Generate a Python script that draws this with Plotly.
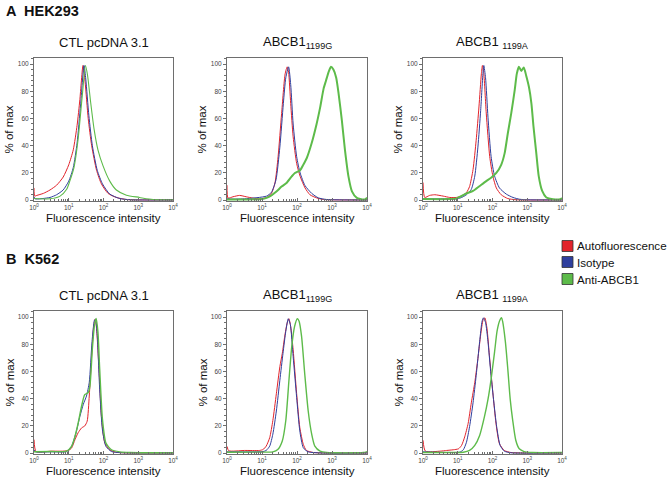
import numpy as np
import plotly.graph_objects as go

# ---------------- data (x in log10 fluorescence intensity, y in % of max) -------------
SERIES_NAMES = ["Autofluorescence", "Isotype", "Anti-ABCB1"]
PANEL_TITLES = ["CTL pcDNA 3.1", "ABCB1<sub>1199G</sub>", "ABCB1 <sub>1199A</sub>"]
ROW_LABELS = ["<b>A  HEK293</b>", "<b>B  K562</b>"]
X_TICK_VALS = [1, 10, 100, 1000, 10000]
X_TICK_TEXT = ["10<sup>0</sup>", "10<sup>1</sup>", "10<sup>2</sup>", "10<sup>3</sup>", "10<sup>4</sup>"]
Y_TICK_VALS = [0, 20, 40, 60, 80, 100]

# HEK293 - CTL pcDNA 3.1
A1_RED_X = [0, 0.02, 0.08, 0.27, 0.46, 0.65, 0.84, 1.0, 1.13, 1.24, 1.32, 1.41, 1.47, 1.56, 1.66, 1.80, 1.94, 2.13, 2.37, 2.66, 3.0, 4.0]
A1_RED_Y = [9, 3, 3.5, 5, 7.5, 11, 17, 26, 37, 55, 74, 99, 87, 60, 40, 22, 12, 5, 2, 0.5, 0.2, 0.2]
A1_BLUE_X = [0, 0.03, 0.46, 0.65, 0.84, 1.0, 1.13, 1.24, 1.34, 1.44, 1.49, 1.58, 1.68, 1.82, 1.97, 2.18, 2.47, 2.8, 4.0]
A1_BLUE_Y = [2.5, 1, 2, 4, 7.5, 14, 24, 42, 70, 99, 89, 62, 40, 22, 12, 4.5, 1.2, 0.3, 0.2]
A1_GREEN_X = [0, 0.46, 0.75, 0.94, 1.03, 1.15, 1.27, 1.39, 1.48, 1.54, 1.63, 1.73, 1.84, 1.99, 2.18, 2.37, 2.66, 3.04, 3.23, 3.43, 3.7, 4.0]
A1_GREEN_Y = [1.2, 1, 3, 8, 14, 24, 45, 77, 99, 92, 72, 52, 37, 25, 14, 7.5, 3.7, 2, 1, 0.5, 0.3, 0.3]

# HEK293 - ABCB1 1199G
A2_RED_X = [0, 0.03, 0.17, 0.36, 0.55, 0.75, 0.94, 1.13, 1.27, 1.37, 1.46, 1.56, 1.66, 1.72, 1.76, 1.82, 1.89, 1.99, 2.09, 2.23, 2.37, 2.56, 2.76, 4.0]
A2_RED_Y = [11, 1.5, 2.5, 3.5, 2.5, 1.5, 1, 2, 5, 12.6, 32, 63.6, 92.7, 98, 94, 71, 46.6, 27, 17.5, 9, 4, 1.7, 0.5, 0.2]
A2_BLUE_X = [0, 0.03, 0.5, 1.13, 1.27, 1.40, 1.51, 1.61, 1.68, 1.76, 1.82, 1.89, 1.99, 2.09, 2.23, 2.42, 2.61, 2.85, 4.0]
A2_BLUE_Y = [1.7, 1, 1, 3, 5.8, 15, 39, 71, 90, 98, 85, 56, 32, 20, 10.7, 5, 1.7, 0.5, 0.2]
A2_GREEN_X = [0, 0.5, 1.0, 1.13, 1.27, 1.42, 1.56, 1.70, 1.85, 1.94, 2.09, 2.18, 2.28, 2.42, 2.56, 2.66, 2.76, 2.83, 2.90, 2.97, 3.04, 3.12, 3.19, 3.28, 3.37, 3.47, 3.57, 3.71, 3.90, 3.97, 4.0]
A2_GREEN_Y = [0.5, 0.5, 0.8, 1.7, 3.6, 6.5, 10, 12.6, 17.5, 20, 22, 26, 31, 42, 56, 68, 82, 88, 94, 98, 96, 90, 78, 59, 37, 17.5, 6.5, 1.7, 0.5, 1, 2]

# HEK293 - ABCB1 1199A
A3_RED_X = [0, 0.05, 0.19, 0.34, 0.58, 0.77, 0.96, 1.10, 1.25, 1.34, 1.44, 1.53, 1.61, 1.68, 1.71, 1.75, 1.82, 1.92, 2.01, 2.11, 2.25, 2.44, 2.68, 4.0]
A3_RED_Y = [13, 2, 3.5, 4, 3, 2, 2, 3, 5.6, 10, 22.5, 44, 68.5, 93, 99, 93, 64, 32, 17.7, 9, 4, 1.2, 0.3, 0.2]
A3_BLUE_X = [0, 0.5, 1.06, 1.25, 1.39, 1.49, 1.58, 1.66, 1.73, 1.75, 1.80, 1.87, 1.96, 2.06, 2.20, 2.40, 2.59, 2.78, 2.97, 4.0]
A3_BLUE_Y = [1, 1, 1.5, 4, 8, 17.7, 39, 66, 95, 99, 90, 61, 32, 17.7, 9, 4.4, 2, 0.7, 0.3, 0.2]
A3_GREEN_X = [0, 0.77, 0.96, 1.10, 1.25, 1.44, 1.63, 1.82, 1.96, 2.11, 2.25, 2.35, 2.44, 2.54, 2.64, 2.70, 2.76, 2.83, 2.90, 2.97, 3.05, 3.12, 3.18, 3.26, 3.33, 3.43, 3.55, 3.74, 3.95, 4.0]
A3_GREEN_Y = [0.8, 0.8, 1.2, 3, 5, 6.8, 10.4, 14, 16.5, 20, 26, 34.6, 49, 64, 81, 93, 98, 95, 97.6, 91.5, 83, 71, 54, 34.6, 17.7, 6.8, 2, 0.7, 0.7, 1.5]

# K562 - CTL pcDNA 3.1
B1_RED_X = [0, 0.06, 0.5, 0.84, 0.99, 1.08, 1.18, 1.27, 1.37, 1.46, 1.53, 1.59, 1.66, 1.72, 1.76, 1.80, 1.87, 1.94, 2.04, 2.18, 2.37, 2.66, 4.0]
B1_RED_Y = [10, 1.2, 1.5, 1.5, 2, 3.7, 10, 15, 18.6, 20, 23.5, 42, 72, 94, 98.5, 91.6, 62, 27, 7.4, 2.5, 0.7, 0.2, 0.2]
B1_BLUE_X = [0, 0.04, 0.5, 0.94, 1.08, 1.21, 1.32, 1.42, 1.51, 1.59, 1.67, 1.74, 1.77, 1.82, 1.89, 1.97, 2.07, 2.23, 2.47, 4.0]
B1_BLUE_Y = [2.5, 1, 1, 1.2, 5, 15, 27, 36, 42, 52, 82, 97.8, 98.5, 86.6, 47, 17, 5, 1.2, 0.4, 0.2]
B1_GREEN_X = [0, 0.5, 0.94, 1.08, 1.18, 1.27, 1.37, 1.46, 1.56, 1.61, 1.68, 1.74, 1.79, 1.84, 1.89, 1.97, 2.07, 2.23, 2.47, 2.76, 4.0]
B1_GREEN_Y = [1, 1.2, 1.5, 5, 12.4, 22, 34.7, 43, 44.6, 49.5, 77, 94, 99, 89, 62, 24.8, 7.4, 2.5, 1, 0.5, 0.3]

# K562 - ABCB1 1199G
B2_RED_X = [0, 0.05, 0.5, 0.93, 1.03, 1.12, 1.22, 1.31, 1.41, 1.51, 1.58, 1.65, 1.72, 1.77, 1.82, 1.89, 1.99, 2.08, 2.18, 2.27, 2.47, 4.0]
B2_RED_Y = [5, 1.8, 2, 2, 2.7, 5.2, 11.4, 24, 43.7, 63.5, 73.4, 86, 95.8, 98.8, 93, 76, 43.7, 18.9, 6.5, 2, 0.5, 0.2]
B2_BLUE_X = [0, 0.05, 1.03, 1.12, 1.22, 1.31, 1.41, 1.51, 1.60, 1.68, 1.75, 1.81, 1.89, 1.99, 2.08, 2.18, 2.32, 4.0]
B2_BLUE_Y = [1, 1, 1.2, 2, 5.2, 14, 31, 53.6, 73.4, 89.6, 98.8, 94.5, 71, 41, 16.4, 4, 1, 0.2]
B2_GREEN_X = [0, 1.12, 1.31, 1.45, 1.58, 1.68, 1.77, 1.85, 1.93, 2.01, 2.06, 2.13, 2.22, 2.32, 2.42, 2.51, 2.66, 2.85, 3.9, 4.0]
B2_GREEN_Y = [0.7, 0.8, 1, 2.7, 9, 24, 53.6, 78.4, 93, 98.8, 97, 86, 58.6, 31, 14, 5.2, 1.5, 0.5, 0.5, 1.2]

# K562 - ABCB1 1199A
B3_RED_X = [0, 0.07, 0.5, 0.68, 0.87, 1.02, 1.11, 1.20, 1.30, 1.39, 1.49, 1.58, 1.66, 1.73, 1.78, 1.84, 1.91, 2.01, 2.10, 2.20, 2.34, 2.53, 4.0]
B3_RED_Y = [9.5, 1.5, 1.5, 2, 2.5, 3.2, 5.7, 12, 22, 37, 52, 69.5, 87, 98, 99.5, 92, 72, 44.5, 22, 7, 2, 0.5, 0.2]
B3_BLUE_X = [0, 1.06, 1.16, 1.25, 1.34, 1.44, 1.53, 1.63, 1.70, 1.74, 1.80, 1.87, 1.94, 2.03, 2.12, 2.22, 2.34, 2.53, 4.0]
B3_BLUE_Y = [1, 0.8, 2.5, 8, 19.5, 37, 57, 82, 97, 99.5, 96, 82, 62, 39.5, 19.5, 5.7, 1.5, 0.3, 0.2]
B3_GREEN_X = [0, 0.87, 1.16, 1.34, 1.49, 1.63, 1.77, 1.87, 1.96, 2.06, 2.13, 2.20, 2.26, 2.29, 2.37, 2.44, 2.51, 2.58, 2.67, 2.77, 2.91, 3.15, 4.0]
B3_GREEN_Y = [0.5, 0.5, 0.7, 2, 5.7, 13, 27, 39.5, 54.5, 74.5, 89.5, 97, 99.5, 97, 82, 62, 39.5, 24.5, 9.5, 3.2, 1.2, 0.5, 0.5]

PANELS = [
    [(A1_RED_X, A1_RED_Y), (A1_BLUE_X, A1_BLUE_Y), (A1_GREEN_X, A1_GREEN_Y)],
    [(A2_RED_X, A2_RED_Y), (A2_BLUE_X, A2_BLUE_Y), (A2_GREEN_X, A2_GREEN_Y)],
    [(A3_RED_X, A3_RED_Y), (A3_BLUE_X, A3_BLUE_Y), (A3_GREEN_X, A3_GREEN_Y)],
    [(B1_RED_X, B1_RED_Y), (B1_BLUE_X, B1_BLUE_Y), (B1_GREEN_X, B1_GREEN_Y)],
    [(B2_RED_X, B2_RED_Y), (B2_BLUE_X, B2_BLUE_Y), (B2_GREEN_X, B2_GREEN_Y)],
    [(B3_RED_X, B3_RED_Y), (B3_BLUE_X, B3_BLUE_Y), (B3_GREEN_X, B3_GREEN_Y)],
]

# ---------------- styling / layout ----------------
W, H = 670, 488
FONT = "Liberation Sans, Arial, sans-serif"
COLORS = ["#e2232b", "#2f3f9e", "#5dbb4a"]
GREEN_WIDTH = [1.1, 2.0, 2.0, 1.4, 1.4, 1.4]
COL_L = [34, 227, 423]
COL_R = [173, 367, 562]
ROW_T = [58, 311]
ROW_B = [201, 454]
FRAME = "#6e6e6e"

fig = go.Figure()
layout = dict(width=W, height=H, margin=dict(l=0, r=0, t=0, b=0, autoexpand=False),
              paper_bgcolor="white", plot_bgcolor="white", showlegend=False,
              font=dict(family=FONT, color="#222"))
annotations = []
shapes = []

minor_x = [m * 10 ** d for d in range(4) for m in range(2, 10)]

for p, curves in enumerate(PANELS):
    r, c = divmod(p, 3)
    k = p + 1
    xa = "x" if k == 1 else f"x{k}"
    ya = "y" if k == 1 else f"y{k}"
    for s, (xs, ys) in enumerate(curves):
        fig.add_trace(go.Scatter(
            x=np.power(10.0, np.array(xs)), y=ys, mode="lines",
            name=SERIES_NAMES[s], xaxis=xa, yaxis=ya,
            line=dict(color=COLORS[s], width=GREEN_WIDTH[p] if s == 2 else 1.0,
                      shape="spline", smoothing=0.6),
            hoverinfo="skip"))
    x0, x1 = COL_L[c] / W, COL_R[c] / W
    y0, y1 = 1 - ROW_B[r] / H, 1 - ROW_T[r] / H
    layout[f"xaxis{'' if k == 1 else k}"] = dict(
        domain=[x0, x1], anchor=ya, type="log", range=[0, 4], automargin=False,
        tickmode="array", tickvals=X_TICK_VALS, ticktext=X_TICK_TEXT,
        ticks="inside", ticklen=3, tickcolor=FRAME, tickwidth=1,
        minor=dict(tickmode="array", tickvals=minor_x, ticks="inside", ticklen=2, tickcolor=FRAME),
        tickfont=dict(size=6.5, color="#444", family=FONT),
        showline=True, mirror=True, linecolor=FRAME, linewidth=1,
        showgrid=False, zeroline=False, fixedrange=True)
    layout[f"yaxis{'' if k == 1 else k}"] = dict(
        domain=[y0, y1], anchor=xa, range=[-0.6, 104.5], automargin=False,
        tickmode="array", tickvals=Y_TICK_VALS,
        ticks="outside", ticklen=3, tickcolor=FRAME, tickwidth=1,
        minor=dict(dtick=4, ticks="outside", ticklen=2, tickcolor=FRAME),
        tickfont=dict(size=6.5, color="#444", family=FONT),
        showline=True, mirror=True, linecolor=FRAME, linewidth=1,
        showgrid=False, zeroline=False, fixedrange=True)

    cx = (COL_L[c] + COL_R[c]) / 2 / W
    # panel title
    annotations.append(dict(text=PANEL_TITLES[c], x=cx, y=1 - (ROW_T[r] - 16) / H,
                            xref="paper", yref="paper", showarrow=False,
                            xanchor="center", yanchor="middle",
                            font=dict(size=13, family=FONT, color="#111")))
    # x-axis title
    annotations.append(dict(text="Fluorescence intensity", x=cx, y=1 - (ROW_B[r] + 17) / H,
                            xref="paper", yref="paper", showarrow=False,
                            xanchor="center", yanchor="middle",
                            font=dict(size=11.5, family=FONT, color="#111")))
    # y-axis title
    annotations.append(dict(text="% of max", x=(COL_L[c] - 25) / W,
                            y=1 - (ROW_T[r] + ROW_B[r]) / 2 / H,
                            xref="paper", yref="paper", showarrow=False, textangle=-90,
                            xanchor="center", yanchor="middle",
                            font=dict(size=11.5, family=FONT, color="#111")))

# section labels
for r, lab in enumerate(ROW_LABELS):
    annotations.append(dict(text=lab, x=4 / W, y=1 - [11, 259][r] / H,
                            xref="paper", yref="paper", showarrow=False,
                            xanchor="left", yanchor="middle",
                            font=dict(size=14.5, family=FONT, color="#111")))

# legend (swatches + labels)
LEG_Y = [246, 262, 279]
for s, name in enumerate(SERIES_NAMES):
    yc = LEG_Y[s]
    shapes.append(dict(type="rect", xref="paper", yref="paper",
                       x0=562 / W, x1=573 / W, y0=1 - (yc + 5.5) / H, y1=1 - (yc - 5.5) / H,
                       fillcolor=COLORS[s], line=dict(color="#333", width=0.8)))
    annotations.append(dict(text=name, x=575 / W, y=1 - yc / H, xref="paper", yref="paper",
                            showarrow=False, xanchor="left", yanchor="middle",
                            font=dict(size=11.6, family=FONT, color="#111")))

layout["annotations"] = annotations
layout["shapes"] = shapes
fig.update_layout(**layout)
fig.write_html("out.html", config={"displayModeBar": False},
               post_script="document.body.style.margin='0';document.body.style.overflow='hidden';")
